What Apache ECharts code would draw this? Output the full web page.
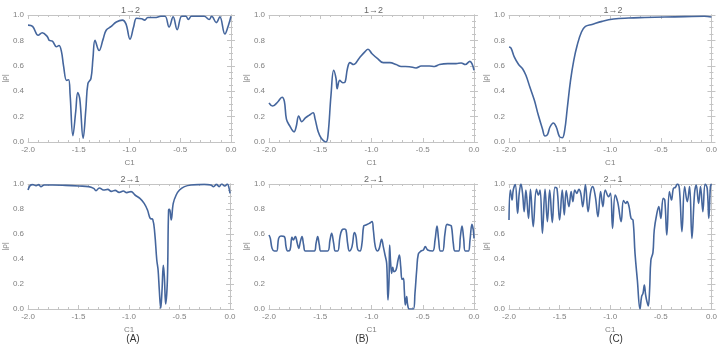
<!DOCTYPE html>
<html>
<head>
<meta charset="utf-8">
<script src="https://cdn.jsdelivr.net/npm/echarts@6/dist/echarts.min.js"></script>
<style>
  html, body { margin: 0; padding: 0; background: #fff; }
  #chart { width: 720px; height: 345px; }
</style>
</head>
<body>
<div id="chart"></div>
<script>
// 图表数据
var xTicks = [-2.0, -1.5, -1.0, -0.5, 0.0];
var yTicks = [0.0, 0.2, 0.4, 0.6, 0.8, 1.0];
var titles = ['1→2', '1→2', '1→2', '2→1', '2→1', '2→1'];
var panelTags = ['(A)', '(B)', '(C)'];

// (A) 1→2
var a12X = [-2.0, -1.955, -1.90, -1.86, -1.81, -1.79, -1.76, -1.72, -1.695, -1.67, -1.65, -1.62, -1.60, -1.585, -1.558, -1.53, -1.51, -1.49, -1.457, -1.43, -1.41, -1.38, -1.36, -1.34, -1.30, -1.26, -1.23, -1.18, -1.13, -1.07, -1.035, -0.995, -0.96, -0.93, -0.88, -0.85, -0.82, -0.75, -0.69, -0.65, -0.61, -0.57, -0.53, -0.485, -0.445, -0.42, -0.39, -0.265, -0.215, -0.19, -0.145, -0.11, -0.06, -0.025, 0.0];
var a12Y = [0.92, 0.91, 0.84, 0.86, 0.83, 0.80, 0.795, 0.75, 0.76, 0.71, 0.60, 0.485, 0.49, 0.37, 0.05, 0.24, 0.39, 0.34, 0.03, 0.26, 0.46, 0.50, 0.66, 0.80, 0.72, 0.81, 0.88, 0.91, 0.945, 0.96, 0.93, 0.81, 0.905, 0.975, 0.97, 0.96, 0.98, 0.98, 0.99, 0.99, 0.905, 0.985, 0.885, 0.99, 0.99, 0.965, 0.99, 0.99, 0.965, 0.99, 0.94, 0.985, 0.85, 0.92, 0.99];

// (B) 1→2
var b12X = [-2.0, -1.965, -1.915, -1.873, -1.85, -1.83, -1.80, -1.755, -1.735, -1.71, -1.68, -1.645, -1.61, -1.57, -1.55, -1.52, -1.49, -1.444, -1.425, -1.395, -1.369, -1.346, -1.335, -1.31, -1.28, -1.26, -1.235, -1.21, -1.175, -1.12, -1.065, -1.034, -0.995, -0.94, -0.885, -0.82, -0.76, -0.71, -0.63, -0.565, -0.515, -0.435, -0.385, -0.337, -0.255, -0.175, -0.125, -0.085, -0.04, -0.02, 0.0];
var b12Y = [0.307, 0.283, 0.315, 0.352, 0.32, 0.18, 0.13, 0.08, 0.12, 0.205, 0.16, 0.19, 0.21, 0.23, 0.18, 0.08, 0.03, 0.0, 0.05, 0.37, 0.565, 0.50, 0.42, 0.485, 0.467, 0.47, 0.577, 0.625, 0.61, 0.66, 0.71, 0.73, 0.695, 0.656, 0.625, 0.625, 0.61, 0.595, 0.593, 0.583, 0.598, 0.598, 0.595, 0.61, 0.617, 0.617, 0.622, 0.61, 0.635, 0.617, 0.565];

// (C) 1→2
var c12X = [-2.0, -1.98, -1.948, -1.905, -1.866, -1.833, -1.794, -1.75, -1.71, -1.67, -1.644, -1.62, -1.595, -1.562, -1.533, -1.50, -1.474, -1.45, -1.425, -1.392, -1.36, -1.327, -1.284, -1.245, -1.18, -1.08, -0.967, -0.82, -0.657, -0.46, -0.265, -0.07, 0.0];
var c12Y = [0.748, 0.74, 0.67, 0.61, 0.577, 0.525, 0.433, 0.33, 0.21, 0.105, 0.047, 0.058, 0.118, 0.15, 0.118, 0.04, 0.034, 0.092, 0.26, 0.485, 0.643, 0.76, 0.866, 0.91, 0.926, 0.95, 0.968, 0.976, 0.98, 0.984, 0.987, 0.99, 0.984];

// (A) 2→1
var a21X = [-2.0, -1.98, -1.954, -1.92, -1.895, -1.873, -1.84, -1.758, -1.627, -1.497, -1.40, -1.35, -1.327, -1.294, -1.252, -1.21, -1.176, -1.137, -1.098, -1.056, -1.023, -0.98, -0.941, -0.892, -0.85, -0.817, -0.79, -0.765, -0.745, -0.725, -0.712, -0.70, -0.686, -0.673, -0.66, -0.65, -0.637, -0.62, -0.608, -0.598, -0.582, -0.562, -0.533, -0.50, -0.451, -0.386, -0.255, -0.19, -0.163, -0.134, -0.108, -0.082, -0.052, -0.026, -0.013, 0.0];
var a21Y = [0.952, 0.987, 0.995, 0.987, 0.995, 0.979, 0.992, 0.992, 0.989, 0.984, 0.979, 0.965, 0.947, 0.968, 0.952, 0.957, 0.941, 0.949, 0.933, 0.944, 0.931, 0.939, 0.912, 0.885, 0.845, 0.792, 0.725, 0.717, 0.605, 0.392, 0.312, 0.152, 0.005, 0.152, 0.35, 0.26, 0.04, 0.232, 0.792, 0.797, 0.712, 0.845, 0.912, 0.952, 0.979, 0.992, 0.997, 0.992, 0.979, 0.997, 0.979, 1.0, 0.984, 1.0, 0.979, 0.925];

// (B) 2→1
var b21X = [-2.0, -1.987, -1.97, -1.948, -1.925, -1.906, -1.883, -1.85, -1.834, -1.818, -1.795, -1.776, -1.763, -1.743, -1.724, -1.71, -1.694, -1.678, -1.662, -1.645, -1.558, -1.541, -1.525, -1.509, -1.493, -1.428, -1.405, -1.389, -1.369, -1.353, -1.33, -1.307, -1.288, -1.265, -1.249, -1.233, -1.216, -1.19, -1.167, -1.151, -1.135, -1.112, -1.093, -1.076, -1.054, -1.021, -0.995, -0.982, -0.963, -0.94, -0.924, -0.901, -0.885, -0.868, -0.852, -0.839, -0.829, -0.823, -0.813, -0.803, -0.793, -0.78, -0.761, -0.741, -0.728, -0.715, -0.702, -0.689, -0.68, -0.67, -0.657, -0.647, -0.631, -0.592, -0.576, -0.559, -0.543, -0.517, -0.494, -0.475, -0.452, -0.403, -0.38, -0.361, -0.345, -0.328, -0.306, -0.283, -0.263, -0.241, -0.221, -0.202, -0.185, -0.15, -0.133, -0.117, -0.101, -0.085, -0.055, -0.039, -0.02, -0.007, 0.0];
var b21Y = [0.592, 0.565, 0.485, 0.464, 0.464, 0.565, 0.584, 0.579, 0.499, 0.464, 0.472, 0.573, 0.552, 0.579, 0.525, 0.485, 0.539, 0.579, 0.512, 0.464, 0.464, 0.525, 0.579, 0.512, 0.464, 0.464, 0.552, 0.605, 0.525, 0.464, 0.464, 0.579, 0.632, 0.64, 0.632, 0.525, 0.464, 0.499, 0.611, 0.579, 0.477, 0.464, 0.525, 0.664, 0.672, 0.685, 0.699, 0.632, 0.499, 0.464, 0.485, 0.557, 0.499, 0.432, 0.365, 0.072, 0.232, 0.512, 0.365, 0.285, 0.333, 0.299, 0.312, 0.392, 0.432, 0.339, 0.237, 0.245, 0.152, 0.032, 0.099, 0.032, 0.0, 0.0, 0.125, 0.312, 0.44, 0.464, 0.472, 0.499, 0.472, 0.464, 0.552, 0.664, 0.552, 0.464, 0.464, 0.605, 0.677, 0.672, 0.664, 0.525, 0.464, 0.464, 0.579, 0.664, 0.565, 0.464, 0.464, 0.552, 0.677, 0.632, 0.565];

// (C) 2→1
var c21X = [-2.0, -1.987, -1.97, -1.958, -1.938, -1.915, -1.899, -1.882, -1.866, -1.85, -1.833, -1.807, -1.788, -1.761, -1.729, -1.709, -1.693, -1.67, -1.644, -1.621, -1.598, -1.572, -1.546, -1.526, -1.5, -1.474, -1.454, -1.435, -1.408, -1.386, -1.369, -1.35, -1.33, -1.31, -1.291, -1.271, -1.245, -1.219, -1.193, -1.173, -1.147, -1.121, -1.095, -1.072, -1.049, -1.016, -0.997, -0.977, -0.951, -0.925, -0.892, -0.869, -0.846, -0.833, -0.814, -0.794, -0.775, -0.755, -0.732, -0.706, -0.69, -0.676, -0.663, -0.65, -0.637, -0.624, -0.611, -0.598, -0.578, -0.565, -0.542, -0.52, -0.5, -0.477, -0.461, -0.441, -0.415, -0.395, -0.376, -0.356, -0.337, -0.317, -0.291, -0.265, -0.239, -0.216, -0.193, -0.167, -0.15, -0.127, -0.108, -0.085, -0.062, -0.042, -0.026, -0.01, 0.0];
var c21Y = [0.712, 0.952, 0.872, 0.952, 0.995, 0.765, 0.925, 1.0, 0.925, 0.779, 0.952, 0.725, 0.957, 0.659, 0.957, 0.912, 0.952, 0.605, 0.957, 0.699, 0.952, 0.691, 0.973, 0.965, 0.712, 0.952, 0.752, 0.947, 0.819, 0.939, 0.859, 0.952, 0.925, 0.957, 0.925, 0.819, 0.995, 0.779, 0.939, 0.979, 0.899, 0.739, 0.939, 0.819, 0.952, 0.899, 0.925, 0.645, 0.912, 0.851, 0.699, 0.867, 0.845, 0.859, 0.819, 0.725, 0.712, 0.445, 0.232, 0.0, 0.099, 0.125, 0.192, 0.112, 0.059, 0.024, 0.152, 0.392, 0.451, 0.632, 0.752, 0.819, 0.725, 0.885, 0.872, 0.592, 0.939, 0.872, 0.965, 0.973, 1.0, 0.965, 0.619, 0.979, 0.859, 0.979, 0.565, 0.925, 0.992, 0.845, 0.979, 0.779, 1.0, 0.965, 0.725, 0.979, 1.0];

var seriesX = [a12X, b12X, c12X, a21X, b21X, c21X];
var seriesY = [a12Y, b12Y, c12Y, a21Y, b21Y, c21Y];

// 面板位置 (像素)
var panels = [
  { left: 26,  top: 15,  width: 205, height: 127 },
  { left: 269, top: 15,  width: 205, height: 127 },
  { left: 509, top: 15,  width: 204, height: 127 },
  { left: 26,  top: 184, width: 204, height: 125 },
  { left: 269, top: 184, width: 205, height: 125 },
  { left: 509, top: 184, width: 204, height: 125 }
];
var tagLeft = [128, 357, 611];  // (A)(B)(C) 位置

var frameColor = '#c4c4c4';
var labelColor = '#808080';
var lineColor = '#45669d';
var fontFam = 'Liberation Sans, Arial, sans-serif';

function zip(xs, ys) {
  var out = [];
  for (var i = 0; i < xs.length; i++) out.push([xs[i], ys[i]]);
  return out;
}

function makeXAxis(gi, pos, showLabel) {
  return {
    type: 'value', gridIndex: gi, position: pos,
    min: xTicks[0], max: xTicks[xTicks.length - 1], interval: 0.5,
    name: showLabel ? 'C1' : '', nameLocation: 'middle', nameGap: 17,
    nameTextStyle: { color: labelColor, fontSize: 8, fontFamily: fontFam },
    axisLine: { show: true, onZero: false, lineStyle: { color: frameColor, width: 1 } },
    axisTick: { show: true, inside: true, length: 4, lineStyle: { color: frameColor } },
    minorTick: { show: true, splitNumber: 5, length: 2, lineStyle: { color: frameColor } },
    axisLabel: { show: showLabel, color: labelColor, fontSize: 8, fontFamily: fontFam, margin: 4,
      formatter: function (v) { return v.toFixed(1); } },
    splitLine: { show: false }
  };
}

function makeYAxis(gi, pos, showLabel) {
  return {
    type: 'value', gridIndex: gi, position: pos,
    min: yTicks[0], max: yTicks[yTicks.length - 1], interval: 0.2,
    name: showLabel ? '|ρ|' : '', nameLocation: 'middle', nameGap: 18,
    nameTextStyle: { color: labelColor, fontSize: 8, fontFamily: fontFam },
    axisLine: { show: true, lineStyle: { color: frameColor, width: 1 } },
    axisTick: { show: true, inside: true, length: 4, lineStyle: { color: frameColor } },
    minorTick: { show: true, splitNumber: 4, length: 2, lineStyle: { color: frameColor } },
    axisLabel: { show: showLabel, color: labelColor, fontSize: 8, fontFamily: fontFam, margin: 4,
      formatter: function (v) { return v.toFixed(1); } },
    splitLine: { show: false }
  };
}

var grid = [], xAxis = [], yAxis = [], series = [], title = [];
panels.forEach(function (p, i) {
  grid.push({ left: p.left, top: p.top, width: p.width, height: p.height });
  xAxis.push(makeXAxis(i, 'bottom', true));
  xAxis.push(makeXAxis(i, 'top', false));
  yAxis.push(makeYAxis(i, 'left', true));
  yAxis.push(makeYAxis(i, 'right', false));
  title.push({
    text: titles[i], left: p.left + p.width / 2 - 3, top: p.top - 14, textAlign: 'center',
    textStyle: { color: '#6a6a6a', fontSize: 9, fontWeight: 'normal', fontFamily: fontFam }
  });
  series.push({
    type: 'line', xAxisIndex: i * 2, yAxisIndex: i * 2,
    data: zip(seriesX[i], seriesY[i]),
    smooth: 0.4, showSymbol: false, clip: true,
    lineStyle: { color: lineColor, width: 1.6 }
  });
});

// (A) (B) (C) 标签
panelTags.forEach(function (t, j) {
  title.push({
    text: t, left: tagLeft[j], top: 329, textAlign: 'center',
    textStyle: { color: '#333', fontSize: 10, fontWeight: 'normal', fontFamily: fontFam }
  });
});

var myChart = echarts.init(document.getElementById('chart'), null, { renderer: 'canvas' });
myChart.setOption({
  animation: false,
  title: title,
  grid: grid,
  xAxis: xAxis,
  yAxis: yAxis,
  series: series
});
</script>
</body>
</html>
